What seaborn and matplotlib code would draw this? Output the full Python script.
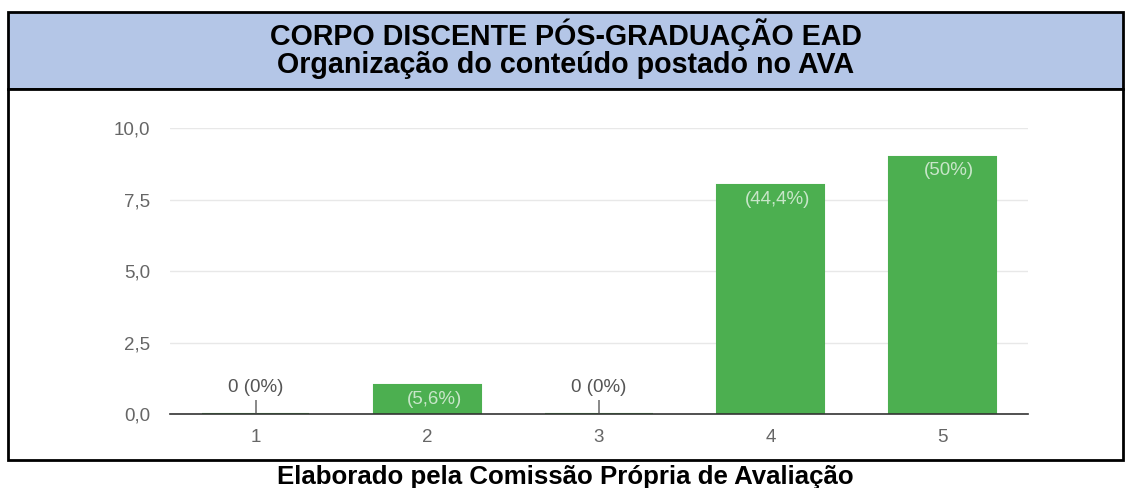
import matplotlib
matplotlib.use("Agg")
import matplotlib.pyplot as plt
import seaborn as sns
import pandas as pd
from matplotlib.patches import Rectangle
from matplotlib import font_manager as fm

categories = ["1", "2", "3", "4", "5"]
values = [0, 1, 0, 8, 9]
labels = ["0 (0%)", "(5,6%)", "0 (0%)", "(44,4%)", "(50%)"]
yticks = [0, 2.5, 5, 7.5, 10]
ytick_labels = ["0,0", "2,5", "5,0", "7,5", "10,0"]
title_lines = ["CORPO DISCENTE PÓS-GRADUAÇÃO EAD", "Organização do conteúdo postado no AVA"]
caption = "Elaborado pela Comissão Própria de Avaliação"

sns.set_theme(style="white")
plt.rcParams['font.family'] = ['Liberation Sans', 'DejaVu Sans']

def find_font(bold):
    for f in fm.fontManager.ttflist:
        if f.name == "Liberation Sans" and "Narrow" not in f.fname and f.style == "normal":
            w = f.weight if isinstance(f.weight, int) else (700 if f.weight == "bold" else 400)
            if (w >= 600) == bold:
                return fm.FontProperties(fname=f.fname)
    return fm.FontProperties(family="Liberation Sans", weight="bold" if bold else "normal")

bold_fp = find_font(True)
reg_fp = find_font(False)

W, H = 1131, 488
fig = plt.figure(figsize=(W / 100, H / 100), dpi=100)

def fx(px):
    return px / W

def fy(py):
    return 1 - py / H

fig.patches.append(Rectangle((fx(8), fy(89)), fx(1123) - fx(8), fy(12) - fy(89),
                             transform=fig.transFigure, facecolor="#b4c6e7",
                             edgecolor="black", linewidth=2, zorder=-2))
fig.patches.append(Rectangle((fx(8), fy(460)), fx(1123) - fx(8), fy(89) - fy(460),
                             transform=fig.transFigure, facecolor="white",
                             edgecolor="black", linewidth=2, zorder=-2))
t1 = bold_fp.copy(); t1.set_size(20.6)
cp = bold_fp.copy(); cp.set_size(18.6)
fig.text(0.5, fy(45), title_lines[0], ha="center", va="baseline", fontproperties=t1, color="black")
fig.text(0.5, fy(73), title_lines[1], ha="center", va="baseline", fontproperties=t1, color="black")
fig.text(0.5, fy(484), caption, ha="center", va="baseline", fontproperties=cp, color="black")

ax = fig.add_axes([fx(170), fy(414), fx(1028) - fx(170), fy(128) - fy(414)])
ax.set_zorder(2)
ax.set_facecolor("none")
df = pd.DataFrame({"cat": categories, "val": values})
sns.barplot(data=df, x="cat", y="val", color="#4caf50", saturation=1,
            width=0.625, edgecolor="#4caf50", linewidth=1.5, ax=ax, zorder=3)

ax.set_ylim(0, 10)
ax.set_xlim(-0.5, len(categories) - 0.5)
ax.set_yticks(yticks)
ax.set_yticklabels(ytick_labels)
ax.yaxis.grid(True, color="#e8e8e8", linewidth=1)
ax.set_axisbelow(True)
for s in ["top", "right", "left"]:
    ax.spines[s].set_visible(False)
ax.spines["bottom"].set_color("#333333")
ax.spines["bottom"].set_linewidth(1.2)
ax.spines["bottom"].set_zorder(4)
ax.tick_params(axis="x", length=0, colors="#666666", pad=11)
ax.tick_params(axis="y", length=0, colors="#666666", pad=14)
for lab in ax.get_xticklabels() + ax.get_yticklabels():
    lab.set_fontproperties(reg_fp)
    lab.set_fontsize(13.5)
ax.set_xlabel("")
ax.set_ylabel("")

for i, (v, lab) in enumerate(zip(values, labels)):
    if v == 0:
        ax.vlines(i, 0, 0.5, color="#888888", linewidth=1.4, zorder=4)
        ax.text(i, 0.62, lab, ha="center", va="bottom", fontproperties=reg_fp,
                fontsize=13.5, color="#555555")
    else:
        ax.text(i + 0.04, v - 0.5, lab, ha="center", va="center", fontproperties=reg_fp,
                fontsize=13.5, color="#c8e6c9", zorder=5)

fig.savefig("out.png", dpi=100)
